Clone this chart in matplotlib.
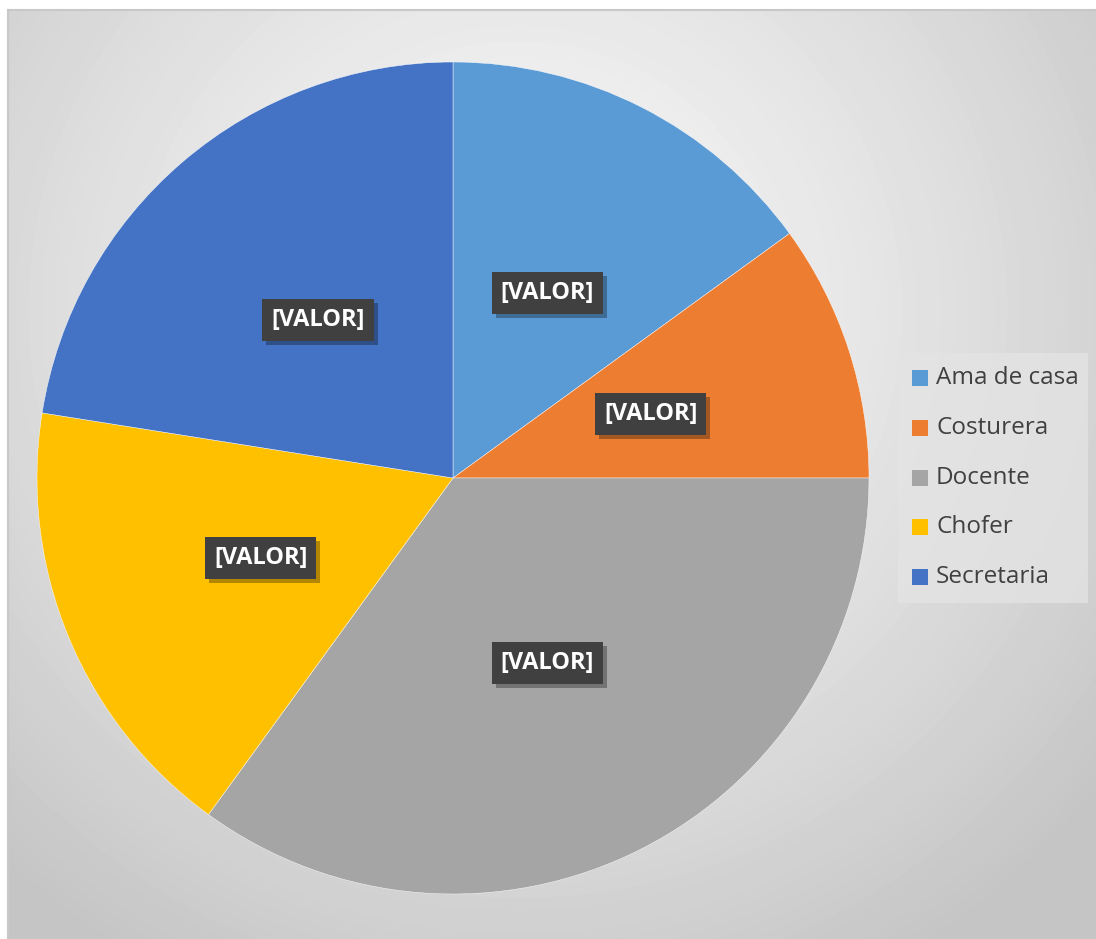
import numpy as np
import matplotlib.pyplot as plt
import matplotlib.transforms as mtransforms
from matplotlib.patches import Rectangle

labels = ['Ama de casa', 'Costurera', 'Docente', 'Chofer', 'Secretaria']
values = [6, 4, 14, 7, 9]
colors = ['#5B9BD5', '#ED7D31', '#A5A5A5', '#FFC000', '#4472C4']
data_label = '[VALOR]'

W, H = 1096, 939
fig = plt.figure(figsize=(W / 100, H / 100), dpi=100)
fig.patch.set_facecolor('white')

# chart area with soft radial grey gradient
bg = fig.add_axes([8 / W, 0, 1 - 8 / W, (H - 10) / H])
yy, xx = np.mgrid[0:H - 10, 0:W - 8]
r = np.hypot(xx - 510, yy - 300) / 760
r = np.clip(r, 0, 1)
shade = 0.975 - 0.205 * r ** 1.3
bg.imshow(shade, cmap='gray', vmin=0, vmax=1, aspect='auto',
          extent=[0, 1, 0, 1], origin='upper', interpolation='bilinear')
bg.set_xticks([])
bg.set_yticks([])
for side in ['right', 'bottom']:
    bg.spines[side].set_visible(False)
for side in ['left', 'top']:
    bg.spines[side].set_color('#c8c8c8')
    bg.spines[side].set_linewidth(1.5)

# pie
cx, cy, rad = 453, 478, 416
ax = fig.add_axes([(cx - rad) / W, (H - cy - rad) / H, 2 * rad / W, 2 * rad / H])
ax.set_facecolor('none')
wedges, texts = ax.pie(values, colors=colors, startangle=90, counterclock=False,
                       radius=1, labels=[data_label] * len(values),
                       labeldistance=0.5,
                       wedgeprops=dict(edgecolor='white', linewidth=0.3))
ax.set_xlim(-1, 1)
ax.set_ylim(-1, 1)
ax.set_aspect('equal')

for t in texts:
    t.set_ha('center')
    t.set_va('center')
    t.set_color('white')
    t.set_fontsize(17)
    t.set_fontweight('bold')
    t.set_family('Open Sans')
    t.set_zorder(5)
    t.set_bbox(dict(boxstyle='square,pad=0.38', fc='#404040', ec='none'))

# drop shadows behind the data label boxes (pixel coordinates)
fig.canvas.draw()
for t in texts:
    ext = t.get_bbox_patch().get_window_extent()
    ax.add_patch(Rectangle((ext.x0 + 4, ext.y0 - 4), ext.width, ext.height,
                           transform=mtransforms.IdentityTransform(),
                           fc='black', ec='none', alpha=0.3, zorder=4,
                           clip_on=False))

# legend
lx0, ly0, lw, lh = 898, 353, 190, 250
fig.patches.append(Rectangle((lx0 / W, (H - ly0 - lh) / H), lw / W, lh / H,
                             transform=fig.transFigure, fc='#e4e4e4', ec='none',
                             alpha=0.75, zorder=1))
for i, (lab, col) in enumerate(zip(labels, colors)):
    ymid = 378 + i * 49.8
    fig.patches.append(Rectangle((912 / W, (H - ymid - 8) / H), 16 / W, 16 / H,
                                 transform=fig.transFigure, fc=col, ec='none', zorder=2))
    fig.text(936 / W, (H - ymid) / H, lab, ha='left', va='center',
             fontsize=17.5, family='Open Sans', color='#404040', zorder=3)

fig.savefig('out.png', dpi=100)
